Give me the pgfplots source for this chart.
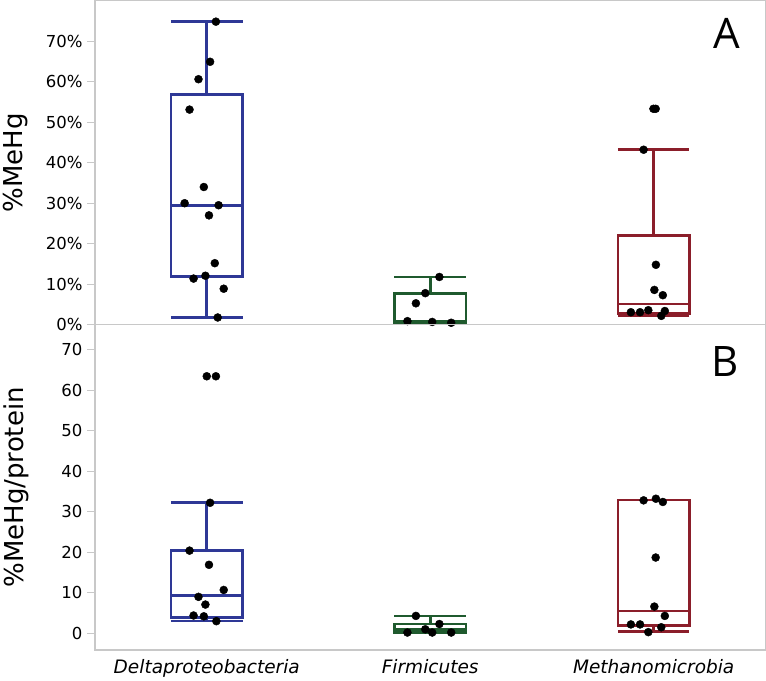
\documentclass[border=0pt]{standalone}
\usepackage{pgfplots}
\pgfplotsset{compat=1.18}
\usepackage{fontspec}
\setmainfont{DejaVu Sans}
\newfontfamily\labfont{Open Sans}
\definecolor{dpblue}{RGB}{46,56,150}
\definecolor{fmgreen}{RGB}{31,90,46}
\definecolor{mmred}{RGB}{139,30,42}
\definecolor{framegray}{RGB}{200,200,200}
\pgfplotsset{
  mycommon/.style={
    scale only axis, width=670pt,
    xmin=-0.5, xmax=2.5,
    axis line style={draw=framegray, line width=1.2pt},
    tick align=outside, ytick pos=left, xtick pos=bottom,
    major tick length=8pt,
    ytick style={draw=framegray, line width=1pt},
    xtick style={draw=none},
    yticklabel style={font=\fontsize{16.5}{16.5}\selectfont, xshift=-1pt},
    /pgf/number format/assume math mode=true,
    ylabel style={font=\fontsize{26}{26}\selectfont, at={(axis description cs:-0.118,0.5)}, anchor=center},
    unbounded coords=jump,
  },
  mybx/.style={line width=2.6pt, solid, mark=none},
  mydots/.style={only marks, mark=*, mark size=4pt, black},
}
\begin{document}
\begin{tikzpicture}
\begin{axis}[mycommon, name=top, height=324pt,
  ymin=0, ymax=80,
  ytick={0,10,20,30,40,50,60,70},
  yticklabels={0\%,10\%,20\%,30\%,40\%,50\%,60\%,70\%},
  xtick=\empty,
  ylabel={\%MeHg},
]
% Deltaproteobacteria
\addplot[mybx, draw=dpblue] coordinates {(-0.16,11.9) (0.16,11.9) (0.16,56.9) (-0.16,56.9)} -- cycle;
\addplot[mybx, draw=dpblue] coordinates {(-0.16,29.5) (0.16,29.5) (nan,nan) (0,56.9) (0,74.9) (nan,nan) (-0.16,74.9) (0.16,74.9) (nan,nan) (0,11.9) (0,1.8) (nan,nan) (-0.16,1.8) (0.16,1.8)};
% Firmicutes
\addplot[mybx, draw=fmgreen] coordinates {(0.84,0.6) (1.16,0.6) (1.16,7.7) (0.84,7.7)} -- cycle;
\addplot[mybx, draw=fmgreen] coordinates {(0.84,0.9) (1.16,0.9) (nan,nan) (1,7.7) (1,11.8) (nan,nan) (0.84,11.8) (1.16,11.8) (nan,nan) (1,0.6) (1,0.5) (nan,nan) (0.84,0.5) (1.16,0.5)};
% Methanomicrobia
\addplot[mybx, draw=mmred] coordinates {(1.84,2.8) (2.16,2.8) (2.16,22.1) (1.84,22.1)} -- cycle;
\addplot[mybx, draw=mmred] coordinates {(1.84,5.1) (2.16,5.1) (nan,nan) (2,22.1) (2,43.2) (nan,nan) (1.84,43.2) (2.16,43.2) (nan,nan) (2,2.8) (2,2.3) (nan,nan) (1.84,2.3) (2.16,2.3)};
\addplot[mydots] coordinates {
 (0.041,74.8) (0.015,64.9) (-0.037,60.6) (-0.077,53.1) (-0.013,34.0) (-0.099,30.0) (0.053,29.5) (0.010,27.0) (0.036,15.2) (-0.059,11.4) (-0.006,12.1) (0.076,8.9) (0.049,1.8)
 (1.041,11.8) (0.978,7.8) (0.936,5.3) (0.898,0.9) (1.009,0.7) (1.094,0.5)
 (1.999,53.3) (2.009,53.3) (1.955,43.2) (2.010,14.8) (2.003,8.6) (2.041,7.3) (1.898,3.1) (1.939,3.1) (1.976,3.6) (2.050,3.4) (2.034,2.2)
};
\node[font=\labfont\fontsize{42}{42}\selectfont] at (rel axis cs:0.943,0.90) {A};
\end{axis}
\begin{axis}[mycommon, at={(top.south west)}, anchor=north west, height=325pt,
  ymin=-4.1, ymax=76.1,
  ytick={0,10,20,30,40,50,60,70},
  xtick={0,1,2},
  xticklabels={Deltaproteobacteria,Firmicutes,Methanomicrobia},
  xticklabel style={font=\fontsize{18.5}{18.5}\itshape\selectfont, yshift=2pt},
  ylabel={\%MeHg/protein},
]
% Deltaproteobacteria
\addplot[mybx, draw=dpblue] coordinates {(-0.16,3.9) (0.16,3.9) (0.16,20.4) (-0.16,20.4)} -- cycle;
\addplot[mybx, draw=dpblue] coordinates {(-0.16,9.3) (0.16,9.3) (nan,nan) (0,20.4) (0,32.2) (nan,nan) (-0.16,32.2) (0.16,32.2) (nan,nan) (0,3.9) (0,3.0) (nan,nan) (-0.16,3.0) (0.16,3.0)};
% Firmicutes
\addplot[mybx, draw=fmgreen] coordinates {(0.84,0.2) (1.16,0.2) (1.16,2.3) (0.84,2.3)} -- cycle;
\addplot[mybx, draw=fmgreen] coordinates {(0.84,1.0) (1.16,1.0) (nan,nan) (1,2.3) (1,4.3) (nan,nan) (0.84,4.3) (1.16,4.3) (nan,nan) (0.84,0.2) (1.16,0.2)};
% Methanomicrobia
\addplot[mybx, draw=mmred] coordinates {(1.84,1.9) (2.16,1.9) (2.16,32.9) (1.84,32.9)} -- cycle;
\addplot[mybx, draw=mmred] coordinates {(1.84,5.5) (2.16,5.5) (nan,nan) (2,1.9) (2,0.5) (nan,nan) (1.84,0.5) (2.16,0.5)};
\addplot[mydots] coordinates {
 (0.0,63.4) (0.041,63.4) (0.015,32.2) (-0.077,20.4) (0.010,16.9) (0.076,10.7) (-0.037,9.0) (-0.006,7.1) (-0.059,4.4) (-0.013,4.2) (0.043,3.0)
 (0.936,4.3) (1.041,2.3) (0.978,1.0) (0.898,0.2) (1.009,0.2) (1.094,0.2)
 (1.955,32.8) (2.010,33.2) (2.041,32.4) (2.009,18.7) (2.003,6.6) (2.050,4.3) (1.898,2.2) (1.939,2.2) (2.034,1.5) (1.976,0.3)
};
\node[font=\labfont\fontsize{42}{42}\selectfont] at (rel axis cs:0.940,0.886) {B};
\end{axis}
\end{tikzpicture}
\end{document}
